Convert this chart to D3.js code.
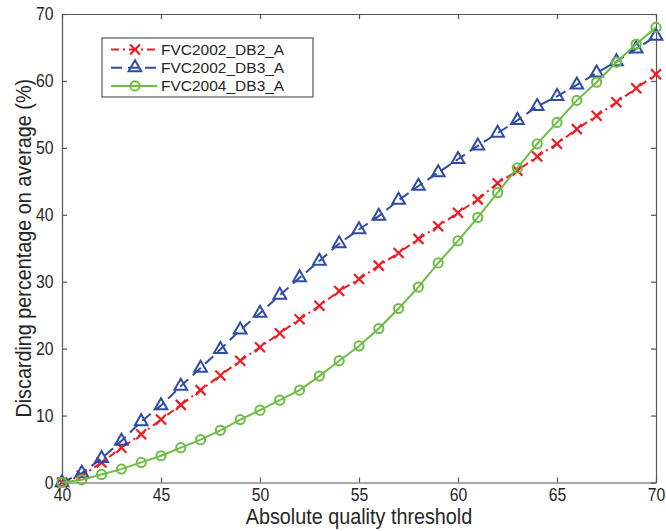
<!DOCTYPE html>
<html>
<head>
<meta charset="utf-8">
<script src="https://cdn.jsdelivr.net/npm/d3@7"></script>
<style>
  body { margin: 0; background: #fff; }
  svg { font-family: "Liberation Sans", Arial, sans-serif; }
  .axis text { fill: #262626; font-size: 17.5px; }
  .axis path, .axis line { stroke: #555; stroke-width: 1.2; }
</style>
</head>
<body>
<div id="chart"></div>
<script>
// thresholds on x axis
let thresholds = d3.range(40, 71);

// discarding percentages per database
let db2002_2 = [0, 1.0, 3.0, 5.2, 7.2, 9.4, 11.6, 13.8, 16.0, 18.2, 20.2, 22.3, 24.4, 26.4, 28.6, 30.4,
  32.4, 34.3, 36.4, 38.3, 40.3, 42.3, 44.7, 46.6, 48.7, 50.6, 52.8, 54.8, 56.8, 58.9, 61.0];
let db2002_3 = [0, 1.4, 3.6, 6.2, 9.1, 11.5, 14.4, 17.1, 19.9, 22.8, 25.3, 28.0, 30.6, 33.1, 35.7, 37.8,
  39.8, 42.2, 44.3, 46.3, 48.3, 50.3, 52.2, 54.1, 56.2, 57.7, 59.4, 61.2, 62.9, 64.8, 66.7];
let db2004_3 = [0, 0.4, 1.2, 2.0, 3.0, 4.0, 5.2, 6.4, 7.8, 9.4, 10.8, 12.3, 13.8, 15.9, 18.2, 20.4,
  23.0, 26.0, 29.2, 32.8, 36.1, 39.6, 43.3, 47.0, 50.6, 53.8, 57.1, 59.8, 62.8, 65.5, 68.0];

let seriesNames = ["FVC2002_DB2_A", "FVC2002_DB3_A", "FVC2004_DB3_A"];
let xTicks = [40, 45, 50, 55, 60, 65, 70];
let yTicks = [0, 10, 20, 30, 40, 50, 60, 70];

function drawChart(width, height, selector) {

  let margin = { top: 14, left: 62, right: 10, bottom: 48.5 };
  let chartWidth = width - margin.left - margin.right;
  let chartHeight = height - margin.top - margin.bottom;

  let xScale = d3.scaleLinear().domain([40, 70]).range([0, chartWidth]);
  let yScale = d3.scaleLinear().domain([0, 70]).range([chartHeight, 0]);

  let svg = d3.select(selector)
    .append("svg")
    .attr("width", width)
    .attr("height", height);

  let chart = svg.append("g")
    .attr("transform", "translate(" + margin.left + "," + margin.top + ")");

  // box axes, matlab style ticks pointing in
  chart.append("g")
    .attr("class", "axis")
    .attr("transform", "translate(0," + chartHeight + ")")
    .call(d3.axisBottom(xScale).tickValues(xTicks).tickSizeInner(-5).tickSizeOuter(0).tickPadding(6));
  chart.append("g")
    .attr("class", "axis")
    .call(d3.axisTop(xScale).tickValues(xTicks).tickSizeInner(-5).tickSizeOuter(0).tickFormat(""));
  chart.append("g")
    .attr("class", "axis")
    .call(d3.axisLeft(yScale).tickValues(yTicks).tickSizeInner(-5).tickSizeOuter(0).tickPadding(9.5));
  chart.append("g")
    .attr("class", "axis")
    .attr("transform", "translate(" + chartWidth + ",0)")
    .call(d3.axisRight(yScale).tickValues(yTicks).tickSizeInner(-5).tickSizeOuter(0).tickFormat(""));

  // narrower glyphs like the original figure font
  chart.selectAll(".axis text").attr("transform", "scale(0.9,1)");

  // axis labels
  svg.append("text")
    .attr("transform", "translate(" + (margin.left + chartWidth / 2) + ",524) scale(0.9,1)")
    .attr("text-anchor", "middle")
    .attr("font-size", 22)
    .attr("fill", "#262626")
    .text("Absolute quality threshold");

  svg.append("text")
    .attr("transform", "translate(31," + (margin.top + chartHeight / 2) + ") rotate(-90) scale(0.9,1)")
    .attr("text-anchor", "middle")
    .attr("font-size", 22)
    .attr("fill", "#262626")
    .text("Discarding percentage on average (%)");

  let series = [
    { name: seriesNames[0], values: db2002_2, color: "#ec1c24", dash: "8,4,2,4", marker: "cross" },
    { name: seriesNames[1], values: db2002_3, color: "#2e4ca6", dash: "11,6", marker: "triangle" },
    { name: seriesNames[2], values: db2004_3, color: "#6cbd45", dash: null, marker: "circle" }
  ];

  let line = d3.line()
    .x((d, i) => xScale(thresholds[i]))
    .y(d => yScale(d));

  function drawMarker(g, type, color) {
    if (type === "cross") {
      g.append("path")
        .attr("d", "M-5,-5L5,5M-5,5L5,-5")
        .attr("stroke", color)
        .attr("stroke-width", 2.2)
        .attr("fill", "none");
    } else if (type === "triangle") {
      g.append("path")
        .attr("d", d3.symbol().type(d3.symbolTriangle).size(70)())
        .attr("stroke", color)
        .attr("stroke-width", 2)
        .attr("fill", "none");
    } else {
      g.append("circle")
        .attr("r", 4.6)
        .attr("stroke", color)
        .attr("stroke-width", 2)
        .attr("fill", "none");
    }
  }

  series.forEach(s => {
    chart.append("path")
      .datum(s.values)
      .attr("d", line)
      .attr("fill", "none")
      .attr("stroke", s.color)
      .attr("stroke-width", 2)
      .attr("stroke-dasharray", s.dash);

    chart.append("g")
      .selectAll("g")
      .data(s.values)
      .join("g")
      .attr("transform", (d, i) => "translate(" + xScale(thresholds[i]) + "," + yScale(d) + ")")
      .each(function() { drawMarker(d3.select(this), s.marker, s.color); });
  });

  // legend
  let legend = svg.append("g").attr("transform", "translate(102,38)");
  legend.append("rect")
    .attr("width", 211)
    .attr("height", 59)
    .attr("fill", "#fff")
    .attr("stroke", "#555")
    .attr("stroke-width", 1.2);

  series.forEach((s, i) => {
    let row = legend.append("g").attr("transform", "translate(0," + (11.5 + i * 18.2) + ")");
    row.append("line")
      .attr("x1", 9).attr("x2", 55)
      .attr("stroke", s.color)
      .attr("stroke-width", 2)
      .attr("stroke-dasharray", s.dash);
    let m = row.append("g").attr("transform", "translate(33,0)");
    drawMarker(m, s.marker, s.color);
    row.append("text")
      .attr("x", 59)
      .attr("y", 5.5)
      .attr("font-size", 15.5)
      .attr("fill", "#262626")
      .text(s.name);
  });
}

drawChart(666, 531, "#chart");
</script>
</body>
</html>
